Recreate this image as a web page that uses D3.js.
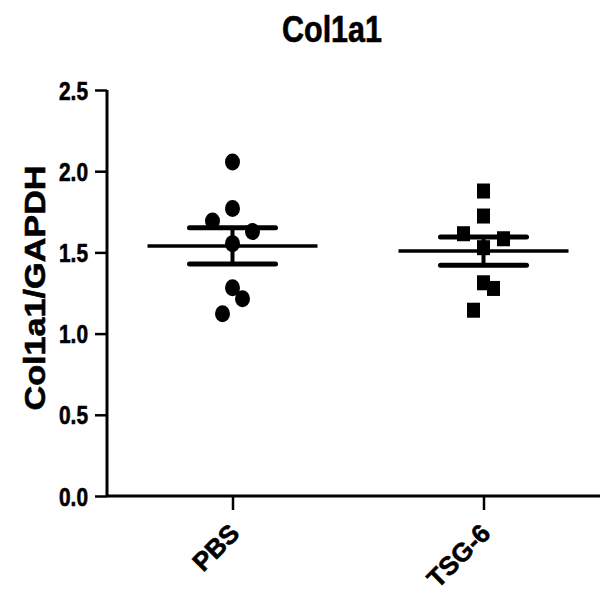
<!DOCTYPE html>
<html><head><meta charset="utf-8">
<script src="https://cdn.jsdelivr.net/npm/d3@7"></script>
<style>body{margin:0;background:#fff}text{font-family:"Liberation Sans",Arial,sans-serif;font-weight:bold;fill:#000;stroke:#000;stroke-width:0.6px}</style>
</head><body><svg id="c" width="605" height="603"></svg>
<script>
const categories = ["PBS", "TSG-6"];
const pbsValues = [2.057, 1.770, 1.693, 1.628, 1.554, 1.282, 1.214, 1.122];
const pbsOffsets = [0, 0, -1, 1, 0, 0, 0.5, -0.5];
const tsgValues = [1.878, 1.724, 1.615, 1.584, 1.529, 1.313, 1.278, 1.144];
const tsgOffsets = [0, 0, -1, 1, 0, 0, 0.5, -0.5];
const yTicks = [0.0, 0.5, 1.0, 1.5, 2.0, 2.5];
const title = "Col1a1";
const yLabel = "Col1a1/GAPDH";

const svg = d3.select("#c");
const x = d3.scalePoint().domain(categories).range([107, 609]).padding(0.5);
const y = d3.scaleLinear().domain([0, 2.5]).range([496, 90]);
const jitter = 20;

function mean(a){return d3.mean(a);}
function sem(a){return d3.deviation(a)/Math.sqrt(a.length);}

// title
svg.append("text").attr("x", 332).attr("y", 42).attr("text-anchor","middle")
  .style("font-size","36px").attr("textLength",100).attr("lengthAdjust","spacingAndGlyphs").text(title);
// y label
svg.append("text").attr("transform","translate(45,288) rotate(-90)").attr("text-anchor","middle")
  .style("font-size","30px").attr("textLength",245).attr("lengthAdjust","spacingAndGlyphs").text(yLabel);

// y axis
const ya = svg.append("g").attr("transform","translate(107,0)")
  .call(d3.axisLeft(y).tickValues(yTicks).tickFormat(d3.format(".1f")).tickSize(12).tickPadding(7));
ya.select(".domain").attr("stroke","#000").attr("stroke-width",3).attr("d","M0,90V496");
ya.selectAll(".tick line").attr("stroke","#000").attr("stroke-width",2.5);
ya.selectAll(".tick text").attr("fill","#000").style("font-size","25px")
  .attr("textLength",29).attr("lengthAdjust","spacingAndGlyphs").attr("dy","0.36em");

// x axis
const xa = svg.append("g").attr("transform","translate(0,496)")
  .call(d3.axisBottom(x).tickSize(14));
xa.select(".domain").attr("stroke","#000").attr("stroke-width",3).attr("d","M107,0H600");
xa.selectAll(".tick line").attr("stroke","#000").attr("stroke-width",2.5);
xa.selectAll(".tick text").attr("fill","#000").style("font-size","26px")
  .attr("text-anchor","end").attr("transform","translate(8,39) rotate(-45)").attr("dy",0).attr("y",0);

// mean + SEM
const groups = [{c:"PBS", v:pbsValues, o:pbsOffsets, shape:"circle"},{c:"TSG-6", v:tsgValues, o:tsgOffsets, shape:"square"}];
groups.forEach(g => {
  const cx = x(g.c), m = mean(g.v), s = sem(g.v);
  svg.append("line").attr("x1",cx-85).attr("x2",cx+85).attr("y1",y(m)).attr("y2",y(m)).attr("stroke","#000").attr("stroke-width",3.5);
  svg.append("line").attr("x1",cx).attr("x2",cx).attr("y1",y(m+s)).attr("y2",y(m-s)).attr("stroke","#000").attr("stroke-width",4);
  [m+s, m-s].forEach(v => svg.append("line").attr("x1",cx-43).attr("x2",cx+43).attr("y1",y(v)).attr("y2",y(v))
    .attr("stroke","#000").attr("stroke-width",5).attr("stroke-linecap","round"));
  if (g.shape==="circle") {
    svg.selectAll(null).data(g.v).enter().append("ellipse")
      .attr("cx",(d,i)=>cx+g.o[i]*jitter).attr("cy",d=>y(d)).attr("rx",7.5).attr("ry",8.5).attr("fill","#000");
  } else {
    svg.selectAll(null).data(g.v).enter().append("rect")
      .attr("x",(d,i)=>cx+g.o[i]*jitter-6.5).attr("y",d=>y(d)-7.5).attr("width",13).attr("height",15).attr("fill","#000");
  }
});
</script></body></html>
